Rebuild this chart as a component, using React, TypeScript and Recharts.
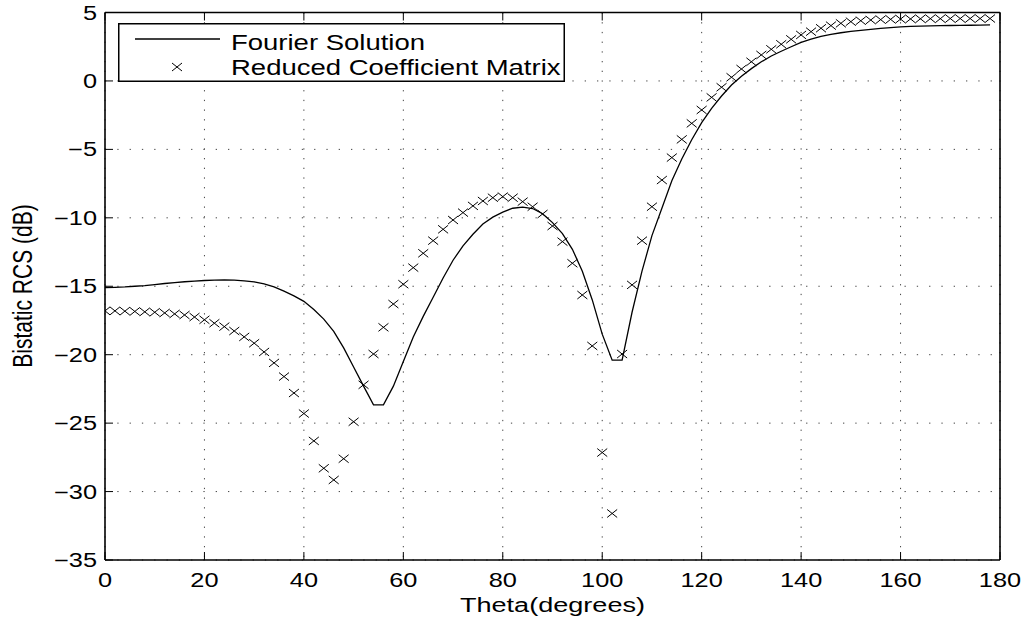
import React from 'react';
import {
  ComposedChart,
  Line,
  XAxis,
  YAxis,
  CartesianGrid,
  Legend,
} from 'recharts';

const theta = [
  0, 2, 4, 6, 8, 10, 12, 14, 16, 18,
  20, 22, 24, 26, 28, 30, 32, 34, 36, 38,
  40, 42, 44, 46, 48, 50, 52, 54, 56, 58,
  60, 62, 64, 66, 68, 70, 72, 74, 76, 78,
  80, 82, 84, 86, 88, 90, 92, 94, 96, 98,
  100, 102, 104, 106, 108, 110, 112, 114, 116, 118,
  120, 122, 124, 126, 128, 130, 132, 134, 136, 138,
  140, 142, 144, 146, 148, 150, 152, 154, 156, 158,
  160, 162, 164, 166, 168, 170, 172, 174, 176, 178,
];

const fourier = [
  -15.1, -15.08, -15.05, -15.0, -14.95, -14.88, -14.8, -14.73, -14.67, -14.62,
  -14.58, -14.55, -14.54, -14.55, -14.6, -14.68, -14.82, -15.05, -15.35, -15.7,
  -16.1, -16.7, -17.4, -18.3, -19.5, -20.9, -22.3, -23.67, -23.67, -22.3,
  -20.5, -18.7, -17.2, -15.8, -14.4, -13.1, -12.05, -11.2, -10.45, -9.95,
  -9.58, -9.3, -9.22, -9.32, -9.7, -10.35, -11.15, -12.3, -13.9, -16.0,
  -18.5, -20.4, -20.4, -16.9, -13.9, -11.3, -9.3, -7.3, -5.7, -4.3,
  -3.05, -2.0, -1.1, -0.3, 0.35, 0.9, 1.4, 1.82, 2.17, 2.5,
  2.82, 3.05, 3.25, 3.4, 3.52, 3.62, 3.7, 3.77, 3.84, 3.9,
  3.95, 3.98, 4.0, 4.02, 4.04, 4.05, 4.06, 4.07, 4.08, 4.09,
];

const reduced = [
  -16.8, -16.8, -16.82, -16.84, -16.87, -16.9, -16.95, -17.02, -17.1, -17.25,
  -17.45, -17.7, -17.95, -18.27, -18.7, -19.16, -19.8, -20.6, -21.6, -22.8,
  -24.3, -26.3, -28.3, -29.15, -27.6, -24.9, -22.2, -19.95, -18.0, -16.3,
  -14.85, -13.64, -12.59, -11.67, -10.84, -10.16, -9.62, -9.13, -8.77, -8.53,
  -8.45, -8.53, -8.82, -9.19, -9.72, -10.6, -11.74, -13.32, -15.64, -19.36,
  -27.15, -31.6, -19.95, -14.9, -11.67, -9.19, -7.24, -5.6, -4.27, -3.1,
  -2.12, -1.2, -0.46, 0.27, 0.87, 1.4, 1.9, 2.31, 2.68, 3.04,
  3.36, 3.6, 3.85, 4.04, 4.21, 4.33, 4.4, 4.45, 4.48, 4.5,
  4.52, 4.53, 4.54, 4.55, 4.55, 4.56, 4.56, 4.56, 4.56, 4.56,
];

const xTicks = [0, 20, 40, 60, 80, 100, 120, 140, 160, 180];
const yTicks = [-35, -30, -25, -20, -15, -10, -5, 0, 5];

const data = theta.map((t, i) => ({ theta: t, fourier: fourier[i], reduced: reduced[i] }));

const FONT = '"Liberation Sans", Arial, Helvetica, sans-serif';
const STRETCH = 1.3;

const fmt = (v: number) => (v < 0 ? `\u2212${Math.abs(v)}` : `${v}`);

const BottomTick = (props: any) => {
  const { x, y, payload } = props;
  return (
    <g>
      <line x1={x} y1={y} x2={x} y2={y - 8} stroke="#000" />
      <text
        transform={`translate(${x},${y + 27}) scale(${STRETCH},1)`}
        textAnchor="middle"
        fontSize={19.5}
        fontFamily={FONT}
        fill="#000"
      >
        {fmt(payload.value)}
      </text>
    </g>
  );
};

const TopTick = (props: any) => {
  const { x, y } = props;
  return <line x1={x} y1={y} x2={x} y2={y + 8} stroke="#000" />;
};

const LeftTick = (props: any) => {
  const { x, y, payload } = props;
  return (
    <g>
      <line x1={x} y1={y} x2={x + 8} y2={y} stroke="#000" />
      <text
        transform={`translate(${x - 8},${y + 7}) scale(${STRETCH},1)`}
        textAnchor="end"
        fontSize={19.5}
        fontFamily={FONT}
        fill="#000"
      >
        {fmt(payload.value)}
      </text>
    </g>
  );
};

const RightTick = (props: any) => {
  const { x, y } = props;
  return <line x1={x} y1={y} x2={x - 8} y2={y} stroke="#000" />;
};

const Cross = (props: any) => {
  const { cx, cy, index } = props;
  if (cx == null || cy == null) return <g key={`c-${index}`} />;
  return (
    <path
      key={`c-${index}`}
      d={`M${cx - 5},${cy - 4}L${cx + 5},${cy + 4}M${cx - 5},${cy + 4}L${cx + 5},${cy - 4}`}
      stroke="#000"
      strokeWidth={1}
      fill="none"
    />
  );
};

const LegendBox = () => (
  <svg width={447} height={59} style={{ display: 'block' }}>
    <rect x={0.75} y={0.75} width={445.5} height={57.5} fill="#fff" stroke="#000" strokeWidth={1.5} />
    <line x1={17} y1={16} x2={102} y2={16} stroke="#000" strokeWidth={1.3} />
    <path d="M54,40L64,48M54,48L64,40" stroke="#000" strokeWidth={1} fill="none" />
    <text transform="translate(113,27) scale(1.25,1)" fontSize={22} fontFamily={FONT} fill="#000">
      Fourier Solution
    </text>
    <text transform="translate(113,52) scale(1.25,1)" fontSize={22} fontFamily={FONT} fill="#000">
      Reduced Coefficient Matrix
    </text>
  </svg>
);

const App: React.FC = () => (
  <div
    style={{
      position: 'absolute',
      left: 0,
      top: 0,
      width: 1026,
      height: 620,
      overflow: 'hidden',
      background: '#fff',
    }}
  >
    <ComposedChart
      width={1026}
      height={620}
      data={data}
      margin={{ top: 0, right: 0, bottom: 0, left: 0 }}
    >
      <CartesianGrid horizontal={false} vertical stroke="#444" strokeDasharray="1.3 8.4" />
      <CartesianGrid horizontal vertical={false} stroke="#444" strokeDasharray="1.3 11" />
      <XAxis
        dataKey="theta"
        type="number"
        domain={[0, 180]}
        ticks={xTicks}
        height={60}
        tickSize={0}
        tickMargin={0}
        tickLine={false}
        axisLine={{ stroke: '#000', strokeWidth: 1.6 }}
        tick={<BottomTick />}
        interval={0}
        allowDataOverflow
      />
      <XAxis
        xAxisId="top"
        orientation="top"
        dataKey="theta"
        type="number"
        domain={[0, 180]}
        ticks={xTicks}
        height={12.5}
        tickSize={0}
        tickMargin={0}
        tickLine={false}
        axisLine={{ stroke: '#000', strokeWidth: 1.6 }}
        tick={<TopTick />}
        interval={0}
      />
      <YAxis
        type="number"
        domain={[-35, 5]}
        ticks={yTicks}
        width={105}
        tickSize={0}
        tickMargin={0}
        tickLine={false}
        axisLine={{ stroke: '#000', strokeWidth: 1.6 }}
        tick={<LeftTick />}
        interval={0}
        allowDataOverflow
      />
      <YAxis
        yAxisId="right"
        orientation="right"
        type="number"
        domain={[-35, 5]}
        ticks={yTicks}
        width={26}
        tickSize={0}
        tickMargin={0}
        tickLine={false}
        axisLine={{ stroke: '#000', strokeWidth: 1.6 }}
        tick={<RightTick />}
        interval={0}
      />
      <Legend
        layout="horizontal"
        verticalAlign="middle"
        align="center"
        content={<LegendBox />}
        wrapperStyle={{ position: 'absolute', left: 118, top: 23, width: 447, height: 59 }}
      />
      <Line
        type="linear"
        dataKey="fourier"
        name="Fourier Solution"
        stroke="#000"
        strokeWidth={1.3}
        dot={false}
        activeDot={false}
        isAnimationActive={false}
      />
      <Line
        type="linear"
        dataKey="reduced"
        name="Reduced Coefficient Matrix"
        stroke="none"
        dot={Cross}
        activeDot={false}
        isAnimationActive={false}
      />
    </ComposedChart>
    <svg
      width={1026}
      height={620}
      style={{ position: 'absolute', left: 0, top: 0, pointerEvents: 'none' }}
    >
      <text
        transform="translate(552.5,612) scale(1.29,1)"
        textAnchor="middle"
        fontSize={21}
        fontFamily={FONT}
        fill="#000"
      >
        Theta(degrees)
      </text>
      <text
        transform="translate(32,286) rotate(-90) scale(1,1.28)"
        textAnchor="middle"
        fontSize={21}
        fontFamily={FONT}
        fill="#000"
      >
        Bistatic RCS (dB)
      </text>
    </svg>
  </div>
);

export default App;
